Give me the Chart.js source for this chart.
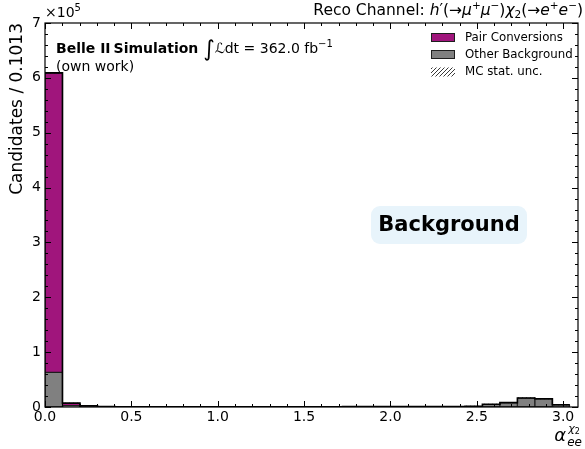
<!DOCTYPE html>
<html>
<head>
<meta charset="utf-8">
<script src="https://cdn.jsdelivr.net/npm/chart.js@4"></script>
<style>
  html, body { margin: 0; padding: 0; background: #fff; }
  #wrap { width: 585px; height: 449px; }
</style>
</head>
<body>
<div id="wrap"><canvas id="c" width="585" height="449"></canvas></div>
<script>
// Histogram of alpha_ee^chi2, 30 bins of width 0.1013
const binWidth = 0.1013;
const nBins = 30;

// Candidates per bin
const pairConversions = [
  546000, 4500, 500, 100, 50, 0, 0, 0, 0, 0,
  0, 0, 0, 0, 0, 0, 0, 0, 0, 0,
  0, 0, 0, 0, 0, 0, 0, 0, 0, 0
];
const otherBackground = [
  63000, 2500, 1500, 600, 300, 200, 150, 150, 150, 150,
  150, 200, 200, 250, 300, 400, 500, 600, 700, 800,
  900, 900, 900, 1000, 1500, 5000, 8000, 16500, 15000, 4000
];
// MC statistical uncertainty on the stacked total
const mcStatUnc = [
  900, 250, 150, 90, 60, 50, 40, 40, 40, 40,
  40, 50, 50, 50, 60, 70, 80, 90, 100, 110,
  110, 110, 110, 120, 150, 260, 360, 520, 500, 250
];

const xTickLabels = ['0.0', '0.5', '1.0', '1.5', '2.0', '2.5', '3.0'];
const yTickLabels = ['0', '1', '2', '3', '4', '5', '6', '7'];

const colPair = '#a0157c';
const colOther = '#808080';
const edge = '#1e1e1e';

const centers = Array.from({length: nBins}, (_, i) => (i + 0.5) * binWidth);
const totals = otherBackground.map((v, i) => v + pairConversions[i]);

// step outline of the stacked total: left edge of every bin, then the last right edge
const outline = totals.map((v, i) => ({x: i * binWidth, y: v}))
  .concat([{x: nBins * binWidth, y: totals[nBins - 1]}]);

// diagonal hatch pattern
function hatchPattern() {
  const s = 4;
  const p = document.createElement('canvas');
  p.width = s; p.height = s;
  const g = p.getContext('2d');
  g.strokeStyle = '#222';
  g.lineWidth = 0.9;
  g.beginPath();
  g.moveTo(0, s); g.lineTo(s, 0);
  g.moveTo(-s / 2, s / 2); g.lineTo(s / 2, -s / 2);
  g.moveTo(s / 2, s * 1.5); g.lineTo(s * 1.5, s / 2);
  g.stroke();
  return g.createPattern(p, 'repeat');
}
const hatch = hatchPattern();

const ctxMain = document.getElementById('c').getContext('2d');

const FONT = '"DejaVu Sans", sans-serif';

// draw a sequence of text runs; each run: {t, f (font), dy}
function runsWidth(ctx, runs) {
  let w = 0;
  for (const r of runs) { ctx.font = r.f; w += ctx.measureText(r.t).width + (r.sp || 0); }
  return w;
}
function drawRuns(ctx, runs, x, y, align) {
  let cx = align === 'right' ? x - runsWidth(ctx, runs) : x;
  ctx.textAlign = 'left';
  ctx.textBaseline = 'alphabetic';
  for (const r of runs) {
    ctx.font = r.f;
    ctx.fillText(r.t, cx, y + (r.dy || 0));
    cx += ctx.measureText(r.t).width + (r.sp || 0);
  }
}

const decorations = {
  id: 'decorations',
  afterDraw(chart) {
    const ctx = chart.ctx;
    const xs = chart.scales.x, ys = chart.scales.y;
    const a = chart.chartArea;
    ctx.save();
    ctx.fillStyle = '#000';
    ctx.strokeStyle = '#000';

    // frame
    ctx.lineWidth = 1.2;
    ctx.strokeRect(a.left, a.top, a.right - a.left, a.bottom - a.top);

    // inward ticks on all four sides
    ctx.lineWidth = 1;
    ctx.beginPath();
    for (let i = 0; i <= 30; i++) {
      const v = i * 0.1;
      const px = Math.round(xs.getPixelForValue(v)) + 0.5;
      const len = (i % 5 === 0) ? 6 : 3;
      ctx.moveTo(px, a.bottom); ctx.lineTo(px, a.bottom - len);
      ctx.moveTo(px, a.top); ctx.lineTo(px, a.top + len);
    }
    for (let i = 0; i <= 35; i++) {
      const v = i * 20000;
      const py = Math.round(ys.getPixelForValue(v)) + 0.5;
      const len = (i % 5 === 0) ? 6 : 3;
      ctx.moveTo(a.left, py); ctx.lineTo(a.left + len, py);
      ctx.moveTo(a.right, py); ctx.lineTo(a.right - len, py);
    }
    ctx.stroke();

    // tick labels
    ctx.font = '14px ' + FONT;
    ctx.textAlign = 'center';
    ctx.textBaseline = 'top';
    xTickLabels.forEach((t) => {
      ctx.fillText(t, xs.getPixelForValue(parseFloat(t)), a.bottom + 3);
    });
    ctx.textAlign = 'right';
    ctx.textBaseline = 'middle';
    yTickLabels.forEach((t) => {
      ctx.fillText(t, a.left - 4, ys.getPixelForValue(parseFloat(t) * 1e5));
    });

    // axis multiplier
    drawRuns(ctx, [
      {t: '×10', f: '14px ' + FONT},
      {t: '5', f: '10px ' + FONT, dy: -6}
    ], a.left, a.top - 6, 'left');

    // y-axis title, aligned to the top of the axis
    ctx.save();
    ctx.translate(22, a.top);
    ctx.rotate(-Math.PI / 2);
    ctx.font = '17px ' + FONT;
    ctx.textAlign = 'right';
    ctx.textBaseline = 'alphabetic';
    ctx.fillText('Candidates / 0.1013', 0, 0);
    ctx.restore();

    // x-axis title, right-aligned at the axis end
    ctx.font = 'italic 18px ' + FONT;
    const aw = ctx.measureText('α').width;
    ctx.font = 'italic 12px ' + FONT;
    const ew = ctx.measureText('ee').width;
    const ax = 582 - aw - ew - 1;
    drawRuns(ctx, [{t: 'α', f: 'italic 18px ' + FONT}], ax, 441, 'left');
    drawRuns(ctx, [{t: 'ee', f: 'italic 12px ' + FONT}], ax + aw + 1, 446, 'left');
    drawRuns(ctx, [
      {t: 'χ', f: 'italic 11px ' + FONT},
      {t: '2', f: '8px ' + FONT, dy: 2}
    ], ax + aw + 2, 432, 'left');

    // channel title
    const n15 = '15.5px ' + FONT, i15 = 'italic 15.5px ' + FONT, s10 = '10.5px ' + FONT;
    drawRuns(ctx, [
      {t: 'Reco Channel: ', f: n15},
      {t: 'h', f: i15}, {t: '′(→', f: n15},
      {t: 'μ', f: i15}, {t: '+', f: s10, dy: -6},
      {t: 'μ', f: i15}, {t: '−', f: s10, dy: -6},
      {t: ')', f: n15},
      {t: 'χ', f: i15}, {t: '2', f: s10, dy: 3},
      {t: '(→', f: n15},
      {t: 'e', f: i15}, {t: '+', f: s10, dy: -6},
      {t: 'e', f: i15}, {t: '−', f: s10, dy: -6},
      {t: ')', f: n15}
    ], 583, 15, 'right');

    // experiment label
    drawRuns(ctx, [
      {t: 'Belle II', f: 'bold 14px ' + FONT, sp: 3},
      {t: 'Simulation ', f: 'bold 14px ' + FONT},
      {t: '∫', f: '22px ' + FONT, dy: 3},
      {t: 'ℒ', f: 'italic 14px ' + FONT},
      {t: 'dt = 362.0 fb', f: '14px ' + FONT},
      {t: '−1', f: '10px ' + FONT, dy: -6}
    ], 56, 53, 'left');
    ctx.font = '14px ' + FONT;
    ctx.textAlign = 'left';
    ctx.textBaseline = 'alphabetic';
    ctx.fillText('(own work)', 56, 71);

    // legend
    const lx = 431, lw = 24, lh = 9;
    const rows = [
      {y: 37.5, fill: colPair, text: 'Pair Conversions'},
      {y: 54.5, fill: colOther, text: 'Other Background'},
      {y: 72, fill: hatch, text: 'MC stat. unc.', noEdge: true}
    ];
    ctx.font = '11.8px ' + FONT;
    rows.forEach(r => {
      ctx.fillStyle = r.fill;
      ctx.fillRect(lx, r.y - lh / 2, lw, lh);
      if (!r.noEdge) {
        ctx.strokeStyle = edge; ctx.lineWidth = 1;
        ctx.strokeRect(lx + 0.5, r.y - lh / 2 + 0.5, lw - 1, lh - 1);
      }
      ctx.fillStyle = '#000';
      ctx.textBaseline = 'middle';
      ctx.fillText(r.text, 465, r.y);
    });

    // sample tag
    const bx = 371, by = 206, bw = 156, bh = 38;
    ctx.fillStyle = '#e8f4fb';
    ctx.beginPath();
    ctx.roundRect(bx, by, bw, bh, 9);
    ctx.fill();
    ctx.fillStyle = '#000';
    ctx.font = 'bold 21px ' + FONT;
    ctx.textAlign = 'center';
    ctx.textBaseline = 'middle';
    ctx.fillText('Background', bx + bw / 2, by + bh / 2 + 1);

    ctx.restore();
  }
};

const barCommon = {
  grouped: false,
  barPercentage: 1,
  categoryPercentage: 1,
  borderSkipped: false
};

new Chart(ctxMain, {
  type: 'bar',
  data: {
    datasets: [
      Object.assign({
        label: 'Other Background',
        data: centers.map((x, i) => ({x, y: [0, otherBackground[i]]})),
        backgroundColor: colOther,
        borderColor: edge,
        borderWidth: 1,
        order: 4
      }, barCommon),
      Object.assign({
        label: 'Pair Conversions',
        data: centers.map((x, i) => ({x, y: [otherBackground[i], totals[i]]})),
        backgroundColor: colPair,
        borderColor: edge,
        borderWidth: 1,
        order: 3
      }, barCommon),
      Object.assign({
        label: 'MC stat. unc.',
        data: centers.map((x, i) => ({x, y: [totals[i] - mcStatUnc[i], totals[i] + mcStatUnc[i]]})),
        backgroundColor: hatch,
        borderWidth: 0,
        order: 2
      }, barCommon),
      {
        type: 'line',
        label: 'outline',
        data: outline,
        stepped: 'before',
        borderColor: '#000',
        borderWidth: 1.6,
        pointRadius: 0,
        fill: false,
        order: 1
      }
    ]
  },
  options: {
    responsive: false,
    animation: false,
    layout: { padding: { left: 45, right: 7, top: 23, bottom: 42 } },
    plugins: { legend: { display: false }, tooltip: { enabled: false } },
    scales: {
      x: { type: 'linear', display: false, min: 0, max: 3.086, offset: false },
      y: { display: false, min: 0, max: 700000 }
    }
  },
  plugins: [decorations]
});
</script>
</body>
</html>
